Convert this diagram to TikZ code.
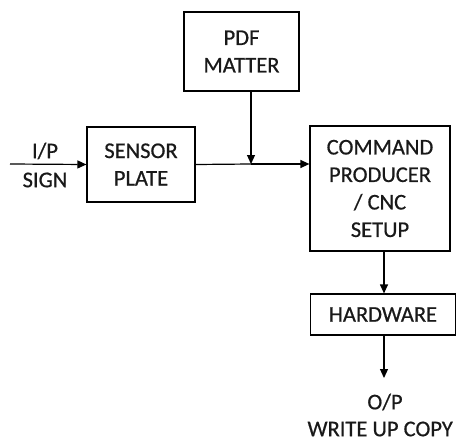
\documentclass[tikz,border=0pt]{standalone}
\usepackage{fontspec}
\setmainfont{Carlito}
\newfontfamily\dfont{Carlito}[FakeBold=0.6]
\usetikzlibrary{arrows.meta}
\begin{document}
\begin{tikzpicture}[x=1pt,y=-1pt,
  blk/.style={draw, line width=1.2pt, inner sep=0pt, align=center, font=\dfont\fontsize{22.5}{27.5}\selectfont, text=black!90},
  lbl/.style={inner sep=0pt, align=center, font=\dfont\fontsize{22.5}{29}\selectfont, text=black!90},
  arr/.style={line width=1.2pt, -{Triangle[length=9pt,width=8pt]}},
  ln/.style={line width=1.2pt}]
\useasboundingbox (0,0) rectangle (457,444);
\node[blk, minimum width=115pt, minimum height=79pt] (pdf) at (241.5,51.5) {PDF\\MATTER};
\node[blk, minimum width=108pt, minimum height=75pt] (sensor) at (141,164.5) {SENSOR\\PLATE};
\node[blk, minimum width=140pt, minimum height=125pt] (cmd) at (380,188.5) {COMMAND\\PRODUCER\\/ CNC\\SETUP};
\node[blk, minimum width=145pt, minimum height=41pt] (hw) at (383,314.5) {HARDWARE};
\node[lbl] (ip) at (45,165) {I/P\\SIGN};
\coordinate (in) at (10,164);
\coordinate (junc) at (251,164);
\coordinate (outend) at (384,378);
\node[lbl] (op) at (385,402) {O/P};
\node[lbl, anchor=east] (wc) at (453,429) {WRITE UP COPY};
\draw[arr] (in) -- (sensor.west);
\draw[ln] (sensor.east) -- (junc);
\draw[arr] (junc) -- (cmd.west |- junc);
\draw[arr] (pdf.south -| junc) -- (junc);
\draw[arr] (cmd.south -| outend) -- (hw.north -| outend);
\draw[arr] (hw.south -| outend) -- (outend);
\end{tikzpicture}
\end{document}
